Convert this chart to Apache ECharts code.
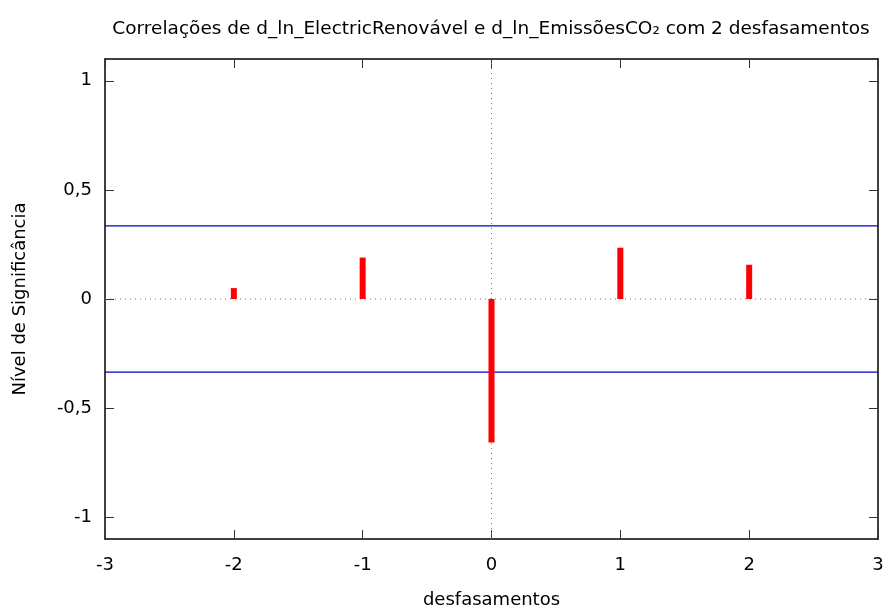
<!DOCTYPE html>
<html>
<head>
<meta charset="utf-8">
<script src="https://cdn.jsdelivr.net/npm/echarts@6/dist/echarts.min.js"></script>
<style>
  html, body { margin: 0; padding: 0; background: #fff; }
  #chart { width: 890px; height: 615px; }
</style>
</head>
<body>
<div id="chart"></div>
<script>
// desfasamentos (lags) e correlações
var lags = [-2, -1, 0, 1, 2];
var correlations = [0.05, 0.19, -0.658, 0.235, 0.157];
var significance = 0.335;
var yTicks = [-1, -0.5, 0, 0.5, 1];

var FONT = 'DejaVu Sans';
var chart = echarts.init(document.getElementById('chart'));

var barData = lags.map(function (l, i) { return [l, correlations[i]]; });

function frameAxis(extra) {
  return Object.assign({
    axisLine: { show: true, onZero: false, lineStyle: { color: '#000', width: 1.5 } },
    axisTick: { show: true, inside: true, length: 9, lineStyle: { color: '#333', width: 1 } },
    splitLine: { show: false }
  }, extra);
}

var option = {
  animation: false,
  textStyle: { fontFamily: FONT },
  title: {
    text: 'Correlações de d_ln_ElectricRenovável e d_ln_EmissõesCO₂ com 2 desfasamentos',
    left: 486, top: 15, textAlign: 'center',
    textStyle: { fontFamily: FONT, fontSize: 18.5, fontWeight: 'normal', color: '#000' }
  },
  grid: { left: 105, right: 12, top: 59, bottom: 76 },
  xAxis: [
    frameAxis({
      type: 'value', min: -3, max: 3, interval: 1, position: 'bottom',
      name: 'desfasamentos', nameLocation: 'middle', nameGap: 52,
      nameTextStyle: { fontFamily: FONT, fontSize: 18, color: '#000' },
      axisLabel: { color: '#000', fontSize: 18, margin: 17, fontFamily: FONT }
    }),
    frameAxis({
      type: 'value', min: -3, max: 3, interval: 1, position: 'top',
      axisLabel: { show: false }
    })
  ],
  yAxis: [
    frameAxis({
      type: 'value', min: -1.1, max: 1.1, position: 'left',
      name: 'Nível de Significância', nameLocation: 'middle', nameGap: 76,
      nameTextStyle: { fontFamily: FONT, fontSize: 18, color: '#000' },
      axisTick: { show: true, inside: true, length: 9, customValues: yTicks, lineStyle: { color: '#333', width: 1 } },
      axisLabel: {
        color: '#000', fontSize: 18, margin: 13, fontFamily: FONT, customValues: yTicks,
        formatter: function (v) { return String(v).replace('.', ','); }
      }
    }),
    frameAxis({
      type: 'value', min: -1.1, max: 1.1, position: 'right',
      axisTick: { show: true, inside: true, length: 9, customValues: yTicks, lineStyle: { color: '#333', width: 1 } },
      axisLabel: { show: false }
    })
  ],
  series: [
    {
      type: 'line',
      data: [[-3, significance], [3, significance]],
      symbol: 'none',
      lineStyle: { color: '#0000c8', width: 1.2 },
      silent: true,
      z: 2
    },
    {
      type: 'line',
      data: [[-3, -significance], [3, -significance]],
      symbol: 'none',
      lineStyle: { color: '#0000c8', width: 1.2 },
      silent: true,
      z: 2
    },
    {
      type: 'line',
      data: [[-3, 0], [3, 0]],
      symbol: 'none',
      lineStyle: { color: '#777', width: 1, type: [1, 4] },
      silent: true,
      z: 1
    },
    {
      type: 'line',
      data: [[0, -1.1], [0, 1.1]],
      symbol: 'none',
      lineStyle: { color: '#777', width: 1, type: [1, 4] },
      silent: true,
      z: 1
    },
    {
      type: 'bar',
      data: barData,
      barWidth: 6,
      itemStyle: { color: '#ff0000' },
      z: 3
    }
  ]
};

chart.setOption(option);
</script>
</body>
</html>
